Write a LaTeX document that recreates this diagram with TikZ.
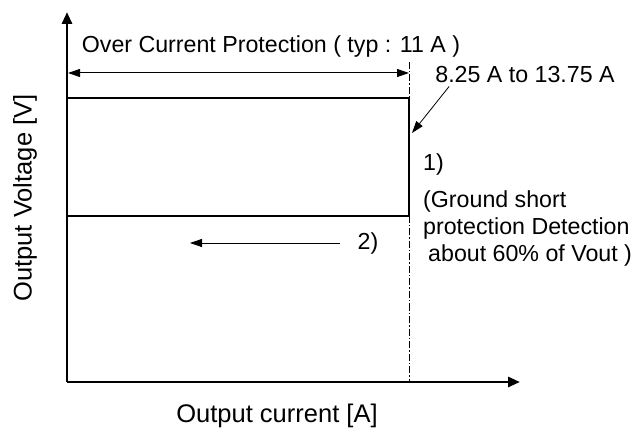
\documentclass[tikz,border=0pt]{standalone}
\usepackage{fontspec}
\setmainfont{Liberation Sans}
\usetikzlibrary{arrows.meta}
\begin{document}
\begin{tikzpicture}[x=1pt,y=-1pt,
axis/.style={line width=2.8pt,-{Triangle[length=12pt,width=10pt]}},
curve/.style={line width=2.4pt},
guide/.style={line width=0.8pt,dash pattern=on 7pt off 2pt on 1.5pt off 2pt},
dim/.style={line width=1pt,{Triangle[length=12pt,width=8pt]}-{Triangle[length=12pt,width=8pt]}},
note/.style={line width=0.8pt,-{Triangle[length=12pt,width=8pt]}},
lbl/.style={font=\fontsize{23.2}{27}\selectfont,inner sep=0pt,text=black},
axlbl/.style={lbl,font=\fontsize{25.5}{30}\selectfont}
]
\useasboundingbox (0,0) rectangle (637,430);
% axes
\coordinate (o) at (67,382);
\coordinate (ytop) at (67,12);
\coordinate (xend) at (520,382);
\draw[axis] (o) -- (ytop);
\draw[axis] (o) -- (xend);
\node[axlbl,rotate=90] (ylbl) at (25,198) {Output Voltage [V]};
\node[axlbl] (xlbl) at (277,416) {Output current [A]};
% characteristic
\coordinate (tl) at (67,98);
\coordinate (tr) at (409,98);
\coordinate (br) at (409,216);
\coordinate (bl) at (67,216);
\draw[curve] (tl) -- (tr) -- (br) -- (bl);
\coordinate (g1) at (409,62);
\coordinate (g2) at (409,382);
\draw[guide] (g1) -- (tr);
\draw[guide] (br) -- (g2);
% OCP range
\coordinate (d1) at (68,73);
\coordinate (d2) at (409,73);
\draw[dim] (d1) -- (d2);
\node[lbl] (ocp) at (271,47) {Over Current Protection ( typ : 11 A )};
\node[lbl] (rng) at (525,75) {8.25 A to 13.75 A};
\coordinate (hit) at (412,133);
\draw[note] ([xshift=14pt,yshift=-3pt]rng.south west) -- (hit);
% notes
\node[lbl,anchor=west] (n1) at (423,164) {1)};
\node[lbl,align=left,anchor=north west] (n2) at (423,190) {(Ground short\\protection Detection\\\hspace{5pt}about 60\% of Vout )};
\node[lbl] (n3) at (368,243) {2)};
\coordinate (a2) at (190,243);
\draw[note] ([xshift=-17pt]n3.west) -- (a2 |- n3.west);
\end{tikzpicture}
\end{document}
